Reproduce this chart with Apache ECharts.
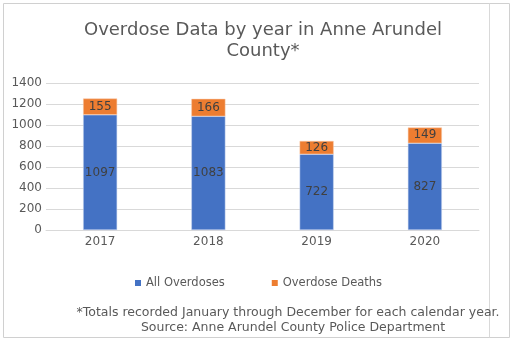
<!DOCTYPE html>
<html><head><meta charset="utf-8">
<script src="https://cdn.jsdelivr.net/npm/echarts@6/dist/echarts.min.js"></script>
<style>html,body{margin:0;padding:0;background:#fff}#c{width:513px;height:344px}</style>
</head><body><div id="c"></div>
<script>
const categories = ['2017', '2018', '2019', '2020'];
const allOverdoses = [1097, 1083, 722, 827];
const overdoseDeaths = [155, 166, 126, 149];
const yTicks = { min: 0, max: 1400, interval: 200 };
const titleText = 'Overdose Data by year in Anne Arundel\nCounty*';
const note1 = '*Totals recorded January through December for each calendar year.';
const note2 = 'Source: Anne Arundel County Police Department';

const FONT = 'DejaVu Sans';
const chart = echarts.init(document.getElementById('c'), null, { renderer: 'canvas' });
const labelStyle = { show: true, position: 'inside', color: '#404040', fontFamily: FONT, fontSize: 12 };
chart.setOption({
  animation: false,
  textStyle: { fontFamily: FONT },
  title: {
    text: titleText, left: 258, top: 15, textAlign: 'center',
    textStyle: { fontFamily: FONT, fontSize: 18, fontWeight: 'normal', color: '#595959', lineHeight: 21 }
  },
  grid: { left: 46, right: 34, top: 83, bottom: 114, containLabel: false },
  legend: {
    left: 130, top: 272, itemWidth: 6, itemHeight: 6, itemGap: 47, icon: 'rect',
    itemStyle: { borderWidth: 0 },
    textStyle: { fontFamily: FONT, fontSize: 11.5, color: '#595959' },
    data: ['All Overdoses', 'Overdose Deaths']
  },
  xAxis: {
    type: 'category', data: categories,
    axisLine: { lineStyle: { color: '#d9d9d9' } }, axisTick: { show: false },
    axisLabel: { color: '#595959', fontFamily: FONT, fontSize: 12, margin: 6 }
  },
  yAxis: {
    type: 'value', min: yTicks.min, max: yTicks.max, interval: yTicks.interval,
    axisLine: { show: false }, axisTick: { show: false },
    splitLine: { lineStyle: { color: '#d9d9d9' } },
    axisLabel: { color: '#595959', fontFamily: FONT, fontSize: 12, margin: 4, formatter: v => String(v) }
  },
  series: [
    { name: 'All Overdoses', type: 'bar', stack: 's', data: allOverdoses, barWidth: 34,
      itemStyle: { color: '#4472C4', borderColor: '#c9d5ee', borderWidth: 0.5 }, label: labelStyle },
    { name: 'Overdose Deaths', type: 'bar', stack: 's', data: overdoseDeaths, barWidth: 34,
      itemStyle: { color: '#ED7D31', borderColor: '#f8c9a8', borderWidth: 0.5 }, label: labelStyle }
  ],
  graphic: [
    { type: 'rect', shape: { x: 3.5, y: 3.5, width: 506, height: 334 }, style: { fill: null, stroke: '#d0d0d0', lineWidth: 1 }, silent: true },
    { type: 'line', shape: { x1: 489.5, y1: 3.5, x2: 489.5, y2: 337.5 }, style: { stroke: '#d9d9d9', lineWidth: 1 }, silent: true },
    { type: 'text', x: 288, y: 306, style: { text: note1, textAlign: 'center', fontFamily: FONT, fontSize: 12.5, fill: '#595959' } },
    { type: 'text', x: 293, y: 321, style: { text: note2, textAlign: 'center', fontFamily: FONT, fontSize: 12.5, fill: '#595959' } }
  ]
});
</script></body></html>
